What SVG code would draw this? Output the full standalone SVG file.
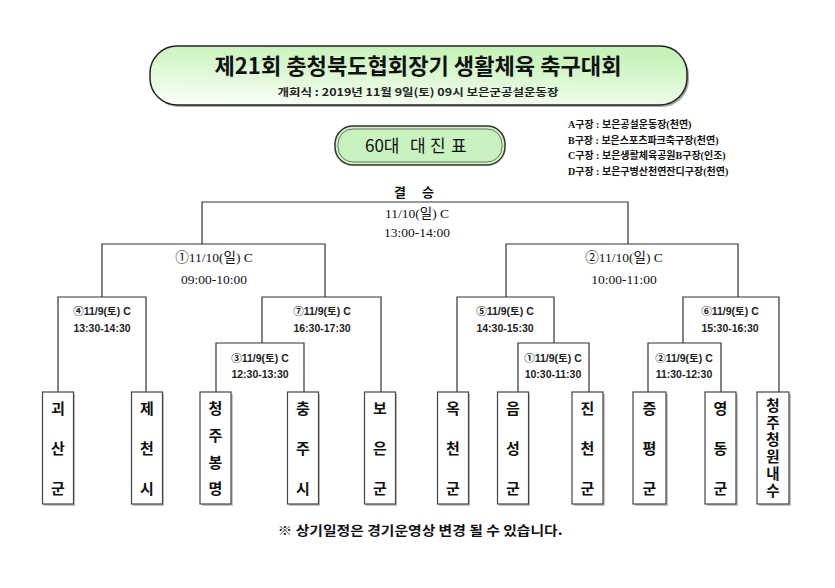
<svg xmlns="http://www.w3.org/2000/svg" width="835" height="588" viewBox="0 0 835 588">
<defs>
<linearGradient id="gTitle" x1="0.4" y1="0" x2="0.1" y2="1">
<stop offset="0" stop-color="#c6f2b8"/>
<stop offset="1" stop-color="#fafff7"/>
</linearGradient>
<style>
.ln{fill:none;stroke:#333;stroke-width:1.2}
.tb{fill:#fff;stroke:#444;stroke-width:1.2}
.sh{fill:#c4c4c4}
.kr{font-family:"Noto Sans CJK KR","Liberation Sans",sans-serif}
.team{font-family:"Liberation Sans","Noto Sans CJK KR",sans-serif;font-weight:bold;font-size:15px;text-anchor:middle;fill:#111}
.q{font-family:"Liberation Sans","Noto Sans CJK KR",sans-serif;font-weight:bold;font-size:10.5px;text-anchor:middle;fill:#222}
.s{font-family:"Liberation Serif","Noto Sans CJK KR",serif;font-size:13.5px;text-anchor:middle;fill:#111}
.lg{font-family:"Liberation Serif","Noto Sans CJK KR",serif;font-weight:bold;font-size:10px;fill:#111}
</style>
</defs>
<rect width="835" height="588" fill="#fff"/>

<g id="title">
<rect x="152" y="48" width="537" height="59" rx="27" fill="#aaa"/>
<rect x="150" y="46" width="537" height="59" rx="27" fill="url(#gTitle)" stroke="#222" stroke-width="1.5"/>
<text x="418" y="74" class="kr" font-weight="bold" font-size="22" text-anchor="middle" fill="#111" textLength="407" lengthAdjust="spacingAndGlyphs">제21회 충청북도협회장기 생활체육 축구대회</text>
<text x="418" y="96" class="kr" font-weight="bold" font-size="10.5" text-anchor="middle" fill="#222" textLength="281" lengthAdjust="spacingAndGlyphs">개회식 : 2019년 11월 9일(토) 09시 보은군공설운동장</text>
</g>

<g id="subtitle">
<rect x="335" y="126" width="170" height="39" rx="18" fill="#c9f2c0" stroke="#333" stroke-width="1.5"/>
<rect x="338" y="129" width="164" height="33" rx="15" fill="none" stroke="#555" stroke-width="0.8"/>
<text y="152" class="kr" font-size="17" fill="#111"><tspan x="365">60대</tspan><tspan x="410">대</tspan><tspan x="430">진</tspan><tspan x="451">표</tspan></text>
</g>

<g id="legend">
<text x="568" y="128" class="lg">A구장 : 보은공설운동장(천연)</text>
<text x="568" y="144" class="lg">B구장 : 보은스포츠파크축구장(천연)</text>
<text x="568" y="159" class="lg">C구장 : 보은생활체육공원B구장(인조)</text>
<text x="568" y="175" class="lg">D구장 : 보은구병산천연잔디구장(천연)</text>
</g>

<g id="connectors">
<path class="ln" d="M202,244 V202 H628 V244"/>
<path class="ln" d="M102,297 V244 H325 V297"/>
<path class="ln" d="M506,297 V244 H738 V297"/>
<path class="ln" d="M58,392 V297 H146 V392"/>
<path class="ln" d="M262,343 V297 H381 V392"/>
<path class="ln" d="M216,392 V343 H304 V392"/>
<path class="ln" d="M457,392 V297 H554 V343"/>
<path class="ln" d="M518,392 V343 H589 V392"/>
<path class="ln" d="M683,343 V297 H779 V392"/>
<path class="ln" d="M648,392 V343 H721 V392"/>
</g>

<g id="final">
<text y="197" class="kr" font-weight="bold" font-size="13" text-anchor="middle" fill="#111"><tspan x="400">결</tspan><tspan x="428">승</tspan></text>
<text x="417" y="218" class="s">11/10(일) C</text>
<text x="417" y="237" class="s">13:00-14:00</text>
</g>
<g id="semi1">
<text x="214" y="262" class="s">①11/10(일) C</text>
<text x="214" y="284" class="s">09:00-10:00</text>
</g>
<g id="semi2">
<text x="624" y="262" class="s">②11/10(일) C</text>
<text x="624" y="284" class="s">10:00-11:00</text>
</g>

<g id="m4"><text x="102" y="315" class="q">④11/9(토) C</text><text x="102" y="332" class="q">13:30-14:30</text></g>
<g id="m7"><text x="322" y="315" class="q">⑦11/9(토) C</text><text x="322" y="332" class="q">16:30-17:30</text></g>
<g id="m3"><text x="260" y="362" class="q">③11/9(토) C</text><text x="260" y="378" class="q">12:30-13:30</text></g>
<g id="m5"><text x="505" y="315" class="q">⑤11/9(토) C</text><text x="505" y="332" class="q">14:30-15:30</text></g>
<g id="m1"><text x="553" y="362" class="q">①11/9(토) C</text><text x="553" y="378" class="q">10:30-11:30</text></g>
<g id="m6"><text x="730" y="315" class="q">⑥11/9(토) C</text><text x="730" y="332" class="q">15:30-16:30</text></g>
<g id="m2"><text x="684" y="362" class="q">②11/9(토) C</text><text x="684" y="378" class="q">11:30-12:30</text></g>

<g id="t1"><rect class="sh" x="44" y="394" width="31" height="112"/><rect class="tb" x="42.5" y="392" width="31" height="112"/>
<text class="team"><tspan x="58" y="414">괴</tspan><tspan x="58" y="454">산</tspan><tspan x="58" y="494">군</tspan></text></g>
<g id="t2"><rect class="sh" x="133" y="394" width="31" height="112"/><rect class="tb" x="131.5" y="392" width="31" height="112"/>
<text class="team"><tspan x="147" y="414">제</tspan><tspan x="147" y="454">천</tspan><tspan x="147" y="494">시</tspan></text></g>
<g id="t3"><rect class="sh" x="202" y="394" width="31" height="112"/><rect class="tb" x="200" y="392" width="31" height="112"/>
<text class="team"><tspan x="215.5" y="414">청</tspan><tspan x="215.5" y="441">주</tspan><tspan x="215.5" y="468">봉</tspan><tspan x="215.5" y="494">명</tspan></text></g>
<g id="t4"><rect class="sh" x="289" y="394" width="31" height="112"/><rect class="tb" x="287.5" y="392" width="31" height="112"/>
<text class="team"><tspan x="303" y="414">충</tspan><tspan x="303" y="454">주</tspan><tspan x="303" y="494">시</tspan></text></g>
<g id="t5"><rect class="sh" x="366" y="394" width="31" height="112"/><rect class="tb" x="364.5" y="392" width="31" height="112"/>
<text class="team"><tspan x="380" y="414">보</tspan><tspan x="380" y="454">은</tspan><tspan x="380" y="494">군</tspan></text></g>
<g id="t6"><rect class="sh" x="439" y="394" width="31" height="112"/><rect class="tb" x="437.5" y="392" width="31" height="112"/>
<text class="team"><tspan x="453" y="414">옥</tspan><tspan x="453" y="454">천</tspan><tspan x="453" y="494">군</tspan></text></g>
<g id="t7"><rect class="sh" x="499" y="394" width="31" height="112"/><rect class="tb" x="497.5" y="392" width="31" height="112"/>
<text class="team"><tspan x="513" y="414">음</tspan><tspan x="513" y="454">성</tspan><tspan x="513" y="494">군</tspan></text></g>
<g id="t8"><rect class="sh" x="574" y="394" width="31" height="112"/><rect class="tb" x="572" y="392" width="31" height="112"/>
<text class="team"><tspan x="587.5" y="414">진</tspan><tspan x="587.5" y="454">천</tspan><tspan x="587.5" y="494">군</tspan></text></g>
<g id="t9"><rect class="sh" x="635" y="394" width="33" height="112"/><rect class="tb" x="633" y="392" width="33" height="112"/>
<text class="team"><tspan x="649.5" y="414">증</tspan><tspan x="649.5" y="454">평</tspan><tspan x="649.5" y="494">군</tspan></text></g>
<g id="t10"><rect class="sh" x="707" y="394" width="31" height="112"/><rect class="tb" x="705" y="392" width="31" height="112"/>
<text class="team"><tspan x="720.5" y="414">영</tspan><tspan x="720.5" y="454">동</tspan><tspan x="720.5" y="494">군</tspan></text></g>
<g id="t11"><rect class="sh" x="759" y="394" width="32" height="112"/><rect class="tb" x="757" y="392" width="32" height="112"/>
<text class="team" style="font-size:14.5px"><tspan x="773" y="411">청</tspan><tspan x="773" y="428">주</tspan><tspan x="773" y="445">청</tspan><tspan x="773" y="462">원</tspan><tspan x="773" y="479">내</tspan><tspan x="773" y="496">수</tspan></text></g>

<g id="note">
<text x="420" y="535" class="kr" font-weight="bold" font-size="13" text-anchor="middle" fill="#111" textLength="285" lengthAdjust="spacingAndGlyphs">※ 상기일정은 경기운영상 변경 될 수 있습니다.</text>
</g>
</svg>
